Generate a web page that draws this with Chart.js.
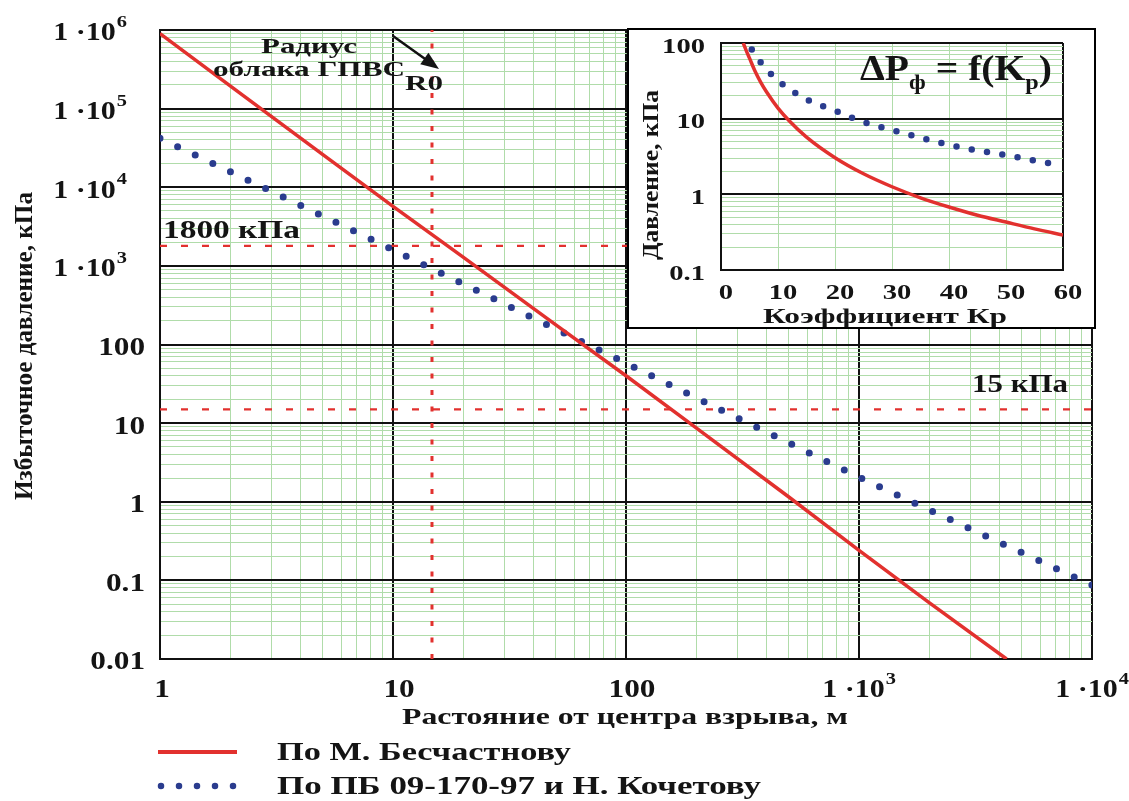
<!DOCTYPE html>
<html>
<head>
<meta charset="utf-8">
<script src="https://cdn.jsdelivr.net/npm/chart.js@4.4.0/dist/chart.umd.min.js"></script>
<style>
body { margin: 0; background: #fff; }
#wrap { position: relative; width: 1129px; height: 801px; overflow: hidden; }
#main { position: absolute; left: 0; top: 0; }
#insetBox { position: absolute; left: 627px; top: 28px; width: 465px; height: 297px; border: 2px solid #000; background: #fff; }
#inset { display: block; }
</style>
</head>
<body>
<div id="wrap">
  <canvas id="main" width="1129" height="801"></canvas>
  <div id="insetBox"><canvas id="inset" width="465" height="297"></canvas></div>
</div>
<script>
// main chart: pressure vs distance (log-log)
const distBesch = [1, 2, 5, 10, 20, 50, 100, 200, 500, 1000, 2000, 4300];
const pressBesch = [900000, 195000, 26000, 5700, 1290, 178, 40, 8.7, 1.15, 0.24, 0.052, 0.01];

const distPB = [1, 2, 5, 10, 20, 50, 100, 200, 500, 1000, 2000, 5000, 10000];
const pressPB = [42000, 15800, 4300, 1600, 590, 157, 58, 21, 5.6, 2.05, 0.79, 0.225, 0.087];

const R0 = 14.7;            // cloud radius, m
const levels = [1800, 15];  // kPa reference levels

const xTickVals = [1, 10, 100, 1000, 10000];
const xTickText = ['1', '10', '100', '1 ·10^3', '1 ·10^4'];
const yTickVals = [0.01, 0.1, 1, 10, 100, 1000, 10000, 100000, 1000000];
const yTickText = ['0.01', '0.1', '1', '10', '100', '1 ·10^3', '1 ·10^4', '1 ·10^5', '1 ·10^6'];

// inset: pressure vs Kp
const kpBesch = [3.9, 4.5, 5, 6, 7, 8, 10, 12, 15, 20, 25, 30, 35, 40, 45, 50, 55, 60];
const pressKpBesch = [100, 77, 63, 42, 30, 22.5, 13.8, 9.3, 5.7, 3.05, 1.87, 1.26, 0.9, 0.68, 0.53, 0.43, 0.35, 0.29];
const kpPB = [5.4, 7, 10, 15, 20, 25, 30, 35, 40, 45, 50, 55, 60];
const pressKpPB = [82, 55, 32, 18, 12.8, 9.0, 7.1, 5.6, 4.5, 3.8, 3.3, 2.8, 2.4];

const insetXTicks = [0, 10, 20, 30, 40, 50, 60];
const insetYTicks = [0.1, 1, 10, 100];
const insetYText = ['0.1', '1', '10', '100'];

const RED = '#e2312e';
const BLUE = '#2a3c8e';
const GREEN = '#b0dcaa';
const FONT = '"Liberation Serif", "Times New Roman", serif';

function toXY(xs, ys) {
    return xs.map((x, i) => ({ x: x, y: ys[i] }));
}

function logGrid(min, max, steps) {
    const ticks = [];
    for (let e = Math.round(Math.log10(min)); e <= Math.round(Math.log10(max)); e++) {
        const base = Math.pow(10, e);
        ticks.push({ value: base, major: true });
        if (base >= max) break;
        steps.forEach(s => ticks.push({ value: s * base, major: false }));
    }
    return ticks;
}

const intSteps = [2, 3, 4, 5, 6, 7, 8, 9];

function drawText(ctx, s, x, y, size, align, sx) {
    ctx.save();
    ctx.font = 'bold ' + size + 'px ' + FONT;
    ctx.textBaseline = 'middle';
    ctx.textAlign = 'left';
    const w = ctx.measureText(s).width * sx;
    const x0 = align === 'center' ? x - w / 2 : (align === 'right' ? x - w : x);
    ctx.translate(x0, y);
    ctx.scale(sx, 1);
    ctx.fillText(s, 0, 0);
    ctx.restore();
    return w;
}

// text fitted to a given width
function fitText(ctx, s, x, y, size, align, width) {
    ctx.save();
    ctx.font = 'bold ' + size + 'px ' + FONT;
    const sx = width / ctx.measureText(s).width;
    ctx.restore();
    return drawText(ctx, s, x, y, size, align, sx);
}

function supText(ctx, label, x, y, size, align, sx) {
    const parts = label.split('^');
    if (parts.length === 1) return drawText(ctx, label, x, y, size, align, sx);
    ctx.save();
    ctx.font = 'bold ' + size + 'px ' + FONT;
    const wb = ctx.measureText(parts[0]).width * sx;
    ctx.font = 'bold ' + Math.round(size * 0.68) + 'px ' + FONT;
    const we = ctx.measureText(parts[1]).width * sx;
    ctx.restore();
    const total = wb + we + 1;
    const x0 = align === 'center' ? x - total / 2 : (align === 'right' ? x - total : x);
    drawText(ctx, parts[0], x0, y, size, 'left', sx);
    drawText(ctx, parts[1], x0 + wb + 1, y - size * 0.45, Math.round(size * 0.68), 'left', sx);
}

function rotText(ctx, s, cx, cy, size, length) {
    ctx.save();
    ctx.translate(cx, cy);
    ctx.rotate(-Math.PI / 2);
    fitText(ctx, s, 0, 0, size, 'center', length);
    ctx.restore();
}

const mainDecor = {
    id: 'mainDecor',
    afterDraw(chart) {
        const ctx = chart.ctx;
        const xs = chart.scales.x, ys = chart.scales.y;
        ctx.save();
        ctx.fillStyle = '#141414';

        yTickVals.forEach((v, i) => {
            const py = ys.getPixelForValue(v) + 4;
            const lab = yTickText[i];
            if (lab.indexOf('^') >= 0) supText(ctx, lab, 127, py, 25, 'right', 1.2);
            else drawText(ctx, lab, 145, py, 25, 'right', 1.25);
        });
        xTickVals.forEach((v, i) => {
            const px = xs.getPixelForValue(v);
            const lab = xTickText[i];
            if (lab.indexOf('^') >= 0) supText(ctx, lab, px, 691, 25, 'center', 1.2);
            else drawText(ctx, lab, px + (i === 0 ? 2 : 6), 691, 25, 'center', 1.25);
        });

        // axis titles
        fitText(ctx, 'Растояние от центра взрыва, м', 625, 718, 23, 'center', 446);
        rotText(ctx, 'Избыточное давление, кПа', 26, 346, 25, 308);

        // annotations
        fitText(ctx, 'Радиус', 309, 47, 22, 'center', 96);
        fitText(ctx, 'облака ГПВС', 309, 70, 22, 'center', 192);
        fitText(ctx, 'R0', 424, 85, 20, 'center', 38);
        fitText(ctx, '1800 кПа', 163, ys.getPixelForValue(levels[0]) - 15, 26, 'left', 137);
        fitText(ctx, '15 кПа', 972, ys.getPixelForValue(levels[1]) - 24, 25, 'left', 96);

        // arrow to R0
        const ax0 = xs.getPixelForValue(10), ay0 = ys.top + 6;
        const ax1 = xs.getPixelForValue(R0) + 7, ay1 = ys.top + 39;
        const ang = Math.atan2(ay1 - ay0, ax1 - ax0);
        ctx.strokeStyle = '#111';
        ctx.lineWidth = 2.5;
        ctx.beginPath();
        ctx.moveTo(ax0, ay0);
        ctx.lineTo(ax1 - 14 * Math.cos(ang), ay1 - 14 * Math.sin(ang));
        ctx.stroke();
        ctx.beginPath();
        ctx.moveTo(ax1, ay1);
        ctx.lineTo(ax1 - 18 * Math.cos(ang) + 7 * Math.sin(ang), ay1 - 18 * Math.sin(ang) - 7 * Math.cos(ang));
        ctx.lineTo(ax1 - 18 * Math.cos(ang) - 7 * Math.sin(ang), ay1 - 18 * Math.sin(ang) + 7 * Math.cos(ang));
        ctx.closePath();
        ctx.fill();

        // legend
        ctx.strokeStyle = RED;
        ctx.lineWidth = 4;
        ctx.beginPath();
        ctx.moveTo(158, 752);
        ctx.lineTo(237, 752);
        ctx.stroke();
        ctx.strokeStyle = BLUE;
        ctx.lineWidth = 6.5;
        ctx.lineCap = 'round';
        ctx.setLineDash([0, 18]);
        ctx.beginPath();
        ctx.moveTo(161, 786);
        ctx.lineTo(236, 786);
        ctx.stroke();
        ctx.setLineDash([]);
        fitText(ctx, 'По М. Бесчастнову', 277, 753, 26, 'left', 294);
        fitText(ctx, 'По ПБ 09-170-97 и Н. Кочетову', 277, 787, 26, 'left', 484);
        ctx.restore();
    }
};

const mainXGrid = logGrid(1, 10000, intSteps);
const mainYGrid = logGrid(0.01, 1000000, intSteps);

new Chart(document.getElementById('main').getContext('2d'), {
    type: 'line',
    data: {
        datasets: [
            {
                data: toXY(distBesch, pressBesch),
                borderColor: RED, borderWidth: 3.5, pointRadius: 0
            },
            {
                data: toXY(distPB, pressPB),
                borderColor: BLUE, borderWidth: 7, pointRadius: 0,
                borderDash: [0, 19.5], borderCapStyle: 'round'
            },
            {
                data: [{ x: R0, y: 0.01 }, { x: R0, y: 1000000 }],
                borderColor: RED, borderWidth: 3, pointRadius: 0, borderDash: [5, 11.5]
            },
            {
                data: [{ x: 1, y: levels[0] }, { x: 10000, y: levels[0] }],
                borderColor: RED, borderWidth: 2.2, pointRadius: 0, borderDash: [7, 14]
            },
            {
                data: [{ x: 1, y: levels[1] }, { x: 10000, y: levels[1] }],
                borderColor: RED, borderWidth: 2.2, pointRadius: 0, borderDash: [7, 14]
            }
        ]
    },
    options: {
        responsive: false,
        animation: false,
        events: [],
        layout: { autoPadding: false, padding: { left: 160, right: 37, top: 30, bottom: 142 } },
        plugins: { legend: { display: false }, tooltip: { enabled: false } },
        scales: {
            x: {
                type: 'logarithmic', min: 1, max: 10000,
                afterBuildTicks: s => { s.ticks = mainXGrid.map(t => ({ value: t.value, major: t.major })); },
                ticks: { display: false },
                grid: {
                    drawTicks: false,
                    color: c => (c.tick && c.tick.major) ? '#111' : GREEN,
                    lineWidth: c => (c.tick && c.tick.major) ? 2 : 1
                },
                border: { display: true, color: '#111', width: 2 }
            },
            y: {
                type: 'logarithmic', min: 0.01, max: 1000000,
                afterBuildTicks: s => { s.ticks = mainYGrid.map(t => ({ value: t.value, major: t.major })); },
                ticks: { display: false },
                grid: {
                    drawTicks: false,
                    color: c => (c.tick && c.tick.major) ? '#111' : GREEN,
                    lineWidth: c => (c.tick && c.tick.major) ? 2 : 1
                },
                border: { display: true, color: '#111', width: 2 }
            }
        }
    },
    plugins: [mainDecor]
});

const insetDecor = {
    id: 'insetDecor',
    afterDraw(chart) {
        const ctx = chart.ctx;
        const xs = chart.scales.x, ys = chart.scales.y;
        ctx.save();
        ctx.fillStyle = '#141414';
        insetYTicks.forEach((v, i) => {
            drawText(ctx, insetYText[i], 76, ys.getPixelForValue(v) + 4, 22, 'right', 1.3);
        });
        insetXTicks.forEach(v => {
            drawText(ctx, String(v), xs.getPixelForValue(v) + 5, 263, 22, 'center', 1.3);
        });
        fitText(ctx, 'Коэффициент Кр', 256, 287, 22, 'center', 244);
        rotText(ctx, 'Давление, кПа', 23, 145, 23, 170);

        // formula ΔPф = f(Kр)
        const big = 36, small = 22;
        const pieces = [['ΔP', big, 0], ['ф', small, 12], [' = f(K', big, 0], ['р', small, 12], [')', big, 0]];
        let raw = 0;
        pieces.forEach(p => {
            ctx.font = 'bold ' + p[1] + 'px ' + FONT;
            raw += ctx.measureText(p[0]).width;
        });
        const sx = 192 / raw;
        let x = 231;
        pieces.forEach(p => {
            x += drawText(ctx, p[0], x, 41 + p[2], p[1], 'left', sx);
        });
        ctx.restore();
    }
};

const insetYGrid = logGrid(0.1, 100, intSteps);

new Chart(document.getElementById('inset').getContext('2d'), {
    type: 'line',
    data: {
        datasets: [
            {
                data: toXY(kpBesch, pressKpBesch),
                borderColor: RED, borderWidth: 3.5, pointRadius: 0,
                cubicInterpolationMode: 'monotone'
            },
            {
                data: toXY(kpPB, pressKpPB),
                borderColor: BLUE, borderWidth: 6.5, pointRadius: 0,
                borderDash: [0, 15.5], borderCapStyle: 'round',
                cubicInterpolationMode: 'monotone'
            }
        ]
    },
    options: {
        responsive: false,
        animation: false,
        events: [],
        layout: { autoPadding: false, padding: { left: 92, right: 31, top: 13, bottom: 57 } },
        plugins: { legend: { display: false }, tooltip: { enabled: false } },
        scales: {
            x: {
                type: 'linear', min: 0, max: 60,
                afterBuildTicks: s => { s.ticks = insetXTicks.map(v => ({ value: v })); },
                ticks: { display: false },
                grid: {
                    drawTicks: false,
                    color: c => (c.tick && (c.tick.value === 0 || c.tick.value === 60)) ? '#111' : GREEN,
                    lineWidth: c => (c.tick && (c.tick.value === 0 || c.tick.value === 60)) ? 2 : 1
                },
                border: { display: true, color: '#111', width: 2 }
            },
            y: {
                type: 'logarithmic', min: 0.1, max: 100,
                afterBuildTicks: s => { s.ticks = insetYGrid.map(t => ({ value: t.value, major: t.major })); },
                ticks: { display: false },
                grid: {
                    drawTicks: false,
                    color: c => (c.tick && c.tick.major) ? '#111' : GREEN,
                    lineWidth: c => (c.tick && c.tick.major) ? 2 : 1
                },
                border: { display: true, color: '#111', width: 2 }
            }
        }
    },
    plugins: [insetDecor]
});
</script>
</body>
</html>
